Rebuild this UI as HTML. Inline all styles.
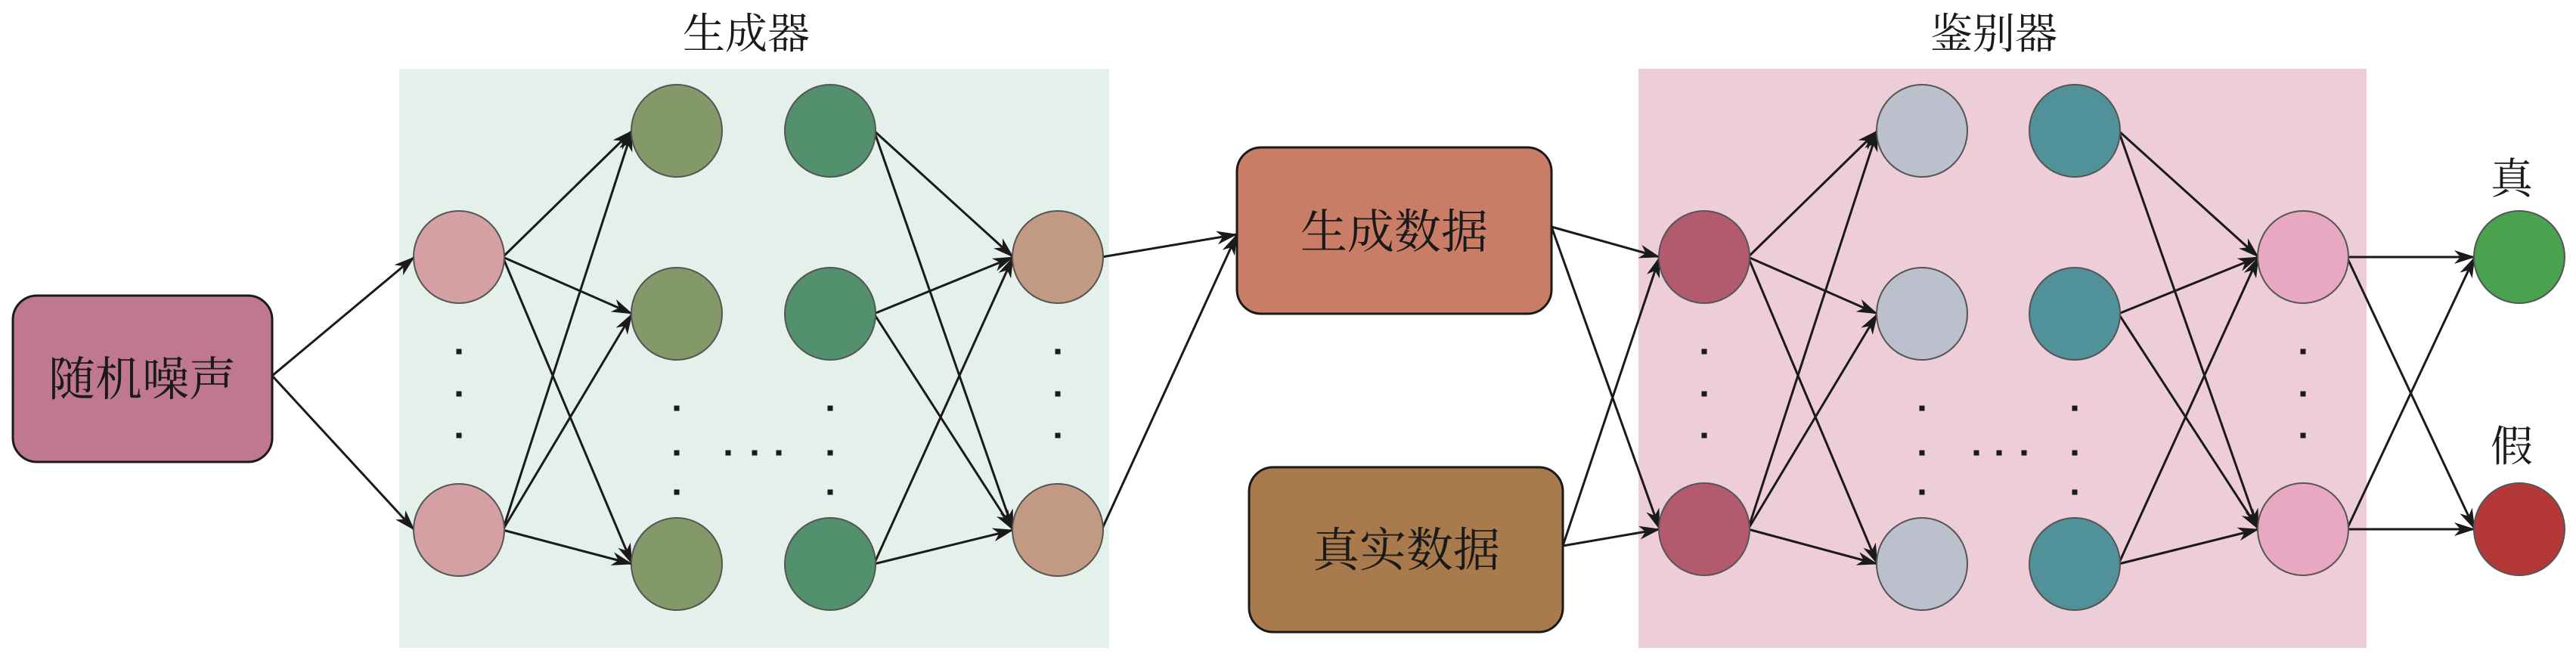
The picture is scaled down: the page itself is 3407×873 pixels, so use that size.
<!DOCTYPE html>
<html><head><meta charset="utf-8">
<style>
html,body{margin:0;padding:0;background:#fff;}
body{width:3407px;height:873px;overflow:hidden;position:relative;}
svg{position:absolute;left:0;top:0;}
text{font-family:"Liberation Serif","Noto Serif CJK SC","Noto Sans CJK SC",serif;fill:#1a1a1a;}
</style></head>
<body>
<svg id="s" width="3407" height="873" viewBox="0 0 3407 873" xmlns="http://www.w3.org/2000/svg">
<defs>
<marker id="ah" viewBox="0 0 28 18" refX="27" refY="9" markerWidth="28" markerHeight="18" markerUnits="userSpaceOnUse" orient="auto">
<path d="M0,0 L28,9 L0,18 L8,9 Z" fill="#1a1a1a"/>
</marker>
</defs>
<rect x="528" y="91" width="939" height="766" fill="#e4f0ea"/>
<rect x="2167" y="91" width="963" height="766" fill="#edcdd7"/>
<text x="987" y="64" font-size="56" text-anchor="middle">生成器</text>
<text x="2637" y="64" font-size="56" text-anchor="middle">鉴别器</text>
<rect x="17" y="391" width="343" height="220" rx="32" fill="#bf7890" stroke="#1a1a1a" stroke-width="3"/>
<text x="188" y="523" font-size="62" text-anchor="middle">随机噪声</text>
<rect x="1636" y="195" width="416" height="220" rx="32" fill="#c97d66" stroke="#1a1a1a" stroke-width="3"/>
<text x="1844" y="328" font-size="62" text-anchor="middle">生成数据</text>
<rect x="1652" y="618" width="415" height="218" rx="32" fill="#a87a4c" stroke="#1a1a1a" stroke-width="3"/>
<text x="1860" y="749" font-size="62" text-anchor="middle">真实数据</text>
<text x="3322" y="256" font-size="56" text-anchor="middle">真</text>
<text x="3322" y="610" font-size="56" text-anchor="middle">假</text>
<g id="edges" stroke="#1a1a1a" stroke-width="3" fill="none"></g>
<g id="nodes"></g>
<g id="dots" fill="#1a1a1a"></g>
</svg>
<script>
var NS="http://www.w3.org/2000/svg",R=60;
var E=document.getElementById("edges"),N=document.getElementById("nodes"),D=document.getElementById("dots");
function el(p,t,a){var e=document.createElementNS(NS,t);for(var k in a)e.setAttribute(k,a[k]);p.appendChild(e);return e;}
function col(x,ys,c){return ys.map(function(y){el(N,"ellipse",{cx:x,cy:y,rx:R,ry:R+1,fill:c,stroke:"#555",
 "stroke-width":2});return [x,y];});}
var g1=col(607,[340,701],"#d4a0a4"),g2=col(895,[173,415,746],"#84996a"),g3=col(1098,[173,415,746],"#52906e"),g4=col(1399,[340,701],"#c29a84");
var d1=col(2254,[340,700],"#b45a6e"),d2=col(2542,[173,415,746],"#bcbfcc"),d3=col(2744,[173,415,746],"#51929a"),d4=col(3046,[340,700],"#e8a8c2");
var o=col(3332,[340,700],"#49a24d");N.lastChild.setAttribute("fill","#b53838");
function seg(x1,y1,x2,y2){el(E,"line",{x1:x1,y1:y1,x2:x2,y2:y2,"marker-end":"url(#ah)"});}
function all(A,B){A.forEach(function(a){B.forEach(function(b){seg(a[0]+R-2,a[1],b[0]-R+1,b[1]);});});}
g1.forEach(function(b){seg(360,497,b[0]-R+1,b[1]);});
all(g1,g2);all(g3,g4);
g4.forEach(function(a){seg(a[0]+R-2,a[1],1636,310);});
d1.forEach(function(b){seg(2052,300,b[0]-R+1,b[1]);seg(2067,722,b[0]-R+1,b[1]);});
all(d1,d2);all(d3,d4);all(d4,o);
function dot(x,y){el(D,"rect",{x:x-3.5,y:y-3.5,width:7,height:7});}
[607,1399,2254,3046].forEach(function(x){[465,521,576].forEach(function(y){dot(x,y);});});
[895,1098,2542,2744].forEach(function(x){[540,599,651].forEach(function(y){dot(x,y);});});
[963,998,1030,2614,2644,2677].forEach(function(x){dot(x,599);});
</script>
</body></html>
